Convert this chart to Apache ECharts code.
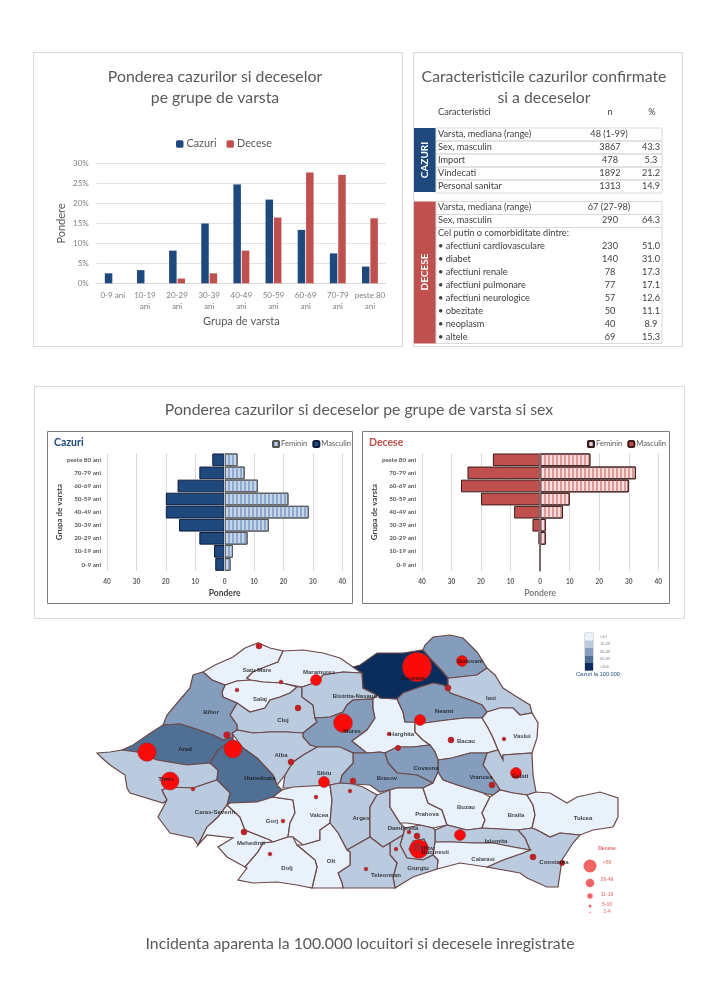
<!DOCTYPE html>
<html>
<head>
<meta charset="utf-8">
<style>html,body{margin:0;padding:0;background:#fff}#c{width:720px;height:1003px}</style>
<script src="https://cdn.jsdelivr.net/npm/echarts@6/dist/echarts.min.js"></script>
</head>
<body>
<div id="c"></div>
<script>
// ---------- data ----------
const ageCats = ['0-9 ani','10-19\nani','20-29\nani','30-39\nani','40-49\nani','50-59\nani','60-69\nani','70-79\nani','peste 80\nani'];
const cazuriPct = [2.5,3.3,8.2,15,24.8,21,13.4,7.5,4.2];
const decesePct = [0,0,1.2,2.5,8.2,16.5,27.8,27.2,16.3];
const pyramidCats = ['0-9 ani','10-19 ani','20-29 ani','30-39 ani','40-49 ani','50-59 ani','60-69 ani','70-79 ani','peste 80 ani'];
const cazuriMasc = [3.2,3.6,8.6,15.5,20,20,16,8.6,4.2];
const cazuriFem = [2,2.8,7.8,15,28.6,21.7,11.3,6.8,4.4];
const deceseMasc = [0,0,0.6,2.6,8.8,20,26.8,24.6,16];
const deceseFem = [0,0,1.9,1.9,7.7,10,30,32.4,17];

const tblHeader = ['Caracteristici','n','%'];
const tblCazuri = [
  ['Varsta, mediana (range)','48 (1-99)',''],
  ['Sex, masculin','3867','43.3'],
  ['Import','478','5.3'],
  ['Vindecati','1892','21.2'],
  ['Personal sanitar','1313','14.9']
];
const tblDecese = [
  ['Varsta, mediana (range)','67 (27-98)',''],
  ['Sex, masculin','290','64.3'],
  ['Cel putin o comorbiditate dintre:','',''],
  ['• afectiuni cardiovasculare','230','51.0'],
  ['• diabet','140','31.0'],
  ['• afectiuni renale','78','17.3'],
  ['• afectiuni pulmonare','77','17.1'],
  ['• afectiuni neurologice','57','12.6'],
  ['• obezitate','50','11.1'],
  ['• neoplasm','40','8.9'],
  ['• altele','69','15.3']
];

// counties: outline, incidence estimated from the shade class
const countyNames = ['Satu Mare','Maramures','Salaj','Cluj','Bistrita-Nasaud','Mures','Harghita','Suceava','Botosani','Iasi','Neamt','Vaslui','Bacau','Galati','Vrancea','Covasna','Brasov','Sibiu','Alba','Bihor','Arad','Timis','Hunedoara','Caras-Severin','Mehedinti','Gorj','Valcea','Arges','Dambovita','Prahova','Buzau','Braila','Tulcea','Constanta','Ialomita','Calarasi','Ilfov','Giurgiu','Teleorman','Olt','Dolj','Bucuresti'];
const countyIncidence = [5,5,5,20,20,40,5,150,40,20,40,5,5,20,40,40,40,20,20,40,70,20,70,20,5,5,5,20,20,5,5,5,5,20,20,5,20,20,20,5,5,20];
const countyOutlines = [
 [[203,672],[215,665],[233,657],[245,648],[258,643],[270,648],[283,651],[278,662],[265,667],[253,672],[247,678],[250,680],[237,681],[225,685],[212,680]],
 [[283,651],[303,650],[323,653],[340,658],[353,667],[362,673],[343,672],[323,675],[317,682],[302,687],[282,683],[263,682],[250,680],[247,678],[253,672],[265,667],[278,662]],
 [[225,685],[237,681],[250,680],[263,682],[282,683],[297,687],[290,693],[280,697],[270,700],[265,708],[250,712],[237,703],[223,697],[222,692]],
 [[297,687],[302,687],[302,697],[313,705],[315,718],[317,722],[303,733],[287,732],[270,732],[253,733],[237,730],[237,725],[230,715],[237,703],[250,712],[265,708],[270,700],[280,697],[290,693]],
 [[302,687],[317,682],[323,675],[343,672],[362,673],[363,688],[377,695],[373,699],[353,700],[347,705],[343,712],[330,717],[315,718],[313,705],[302,697]],
 [[315,718],[330,717],[343,712],[347,705],[353,700],[373,699],[373,708],[375,718],[367,730],[352,741],[367,753],[353,753],[340,747],[317,747],[310,745],[303,737],[303,733],[317,722]],
 [[373,699],[377,695],[380,698],[397,699],[403,712],[405,722],[415,722],[415,732],[423,740],[430,745],[413,747],[397,747],[385,753],[380,752],[367,753],[352,741],[367,730],[375,718],[373,708]],
 [[353,667],[360,665],[377,653],[403,653],[423,650],[430,658],[443,672],[448,678],[448,688],[443,685],[433,683],[420,687],[403,693],[397,699],[380,698],[377,695],[363,688],[362,673]],
 [[423,650],[425,645],[433,637],[450,635],[463,638],[477,652],[487,668],[477,675],[450,678],[448,678],[443,672],[430,658]],
 [[448,678],[450,678],[477,675],[487,668],[495,675],[503,688],[517,697],[530,705],[532,713],[520,715],[513,708],[500,708],[487,712],[482,705],[470,700],[450,693],[448,688]],
 [[403,693],[420,687],[433,683],[443,685],[448,688],[450,693],[470,700],[482,705],[487,712],[482,718],[465,718],[447,720],[425,723],[415,722],[405,722],[403,712],[397,699]],
 [[487,712],[500,708],[513,708],[520,715],[532,713],[538,723],[537,738],[532,753],[503,755],[503,760],[498,750],[493,738],[488,728],[482,718]],
 [[415,722],[425,723],[447,720],[465,718],[482,718],[488,728],[493,738],[498,750],[487,753],[470,753],[452,758],[438,760],[435,752],[430,745],[423,740],[415,732]],
 [[498,750],[503,760],[503,755],[532,753],[533,775],[536,792],[527,795],[513,793],[500,790],[497,785],[483,765],[487,753]],
 [[438,760],[452,758],[470,753],[487,753],[483,765],[497,785],[500,790],[493,795],[483,793],[457,785],[443,780],[438,772]],
 [[385,753],[397,747],[413,747],[430,745],[435,752],[438,760],[438,772],[433,783],[417,775],[397,773],[388,763]],
 [[353,753],[367,753],[380,752],[385,753],[388,763],[397,773],[417,775],[433,783],[423,788],[397,788],[380,792],[370,785],[353,784],[340,783],[342,775],[353,763]],
 [[293,762],[303,755],[317,747],[340,747],[353,753],[353,763],[342,775],[340,783],[330,785],[303,788],[283,788],[285,775]],
 [[232,733],[237,730],[253,733],[270,732],[287,732],[303,733],[303,737],[310,745],[317,747],[303,755],[293,762],[285,775],[277,785],[273,775],[257,758],[243,748],[237,740]],
 [[203,672],[212,680],[225,685],[222,692],[223,697],[237,703],[230,715],[237,725],[237,730],[232,733],[233,737],[223,740],[213,735],[193,728],[180,724],[163,725],[167,715],[178,702],[190,688],[193,675]],
 [[122,750],[133,745],[152,732],[163,725],[180,724],[193,728],[213,735],[223,740],[233,737],[233,740],[218,750],[210,763],[187,765],[157,760],[137,752]],
 [[97,753],[110,752],[122,750],[137,752],[157,760],[187,765],[210,763],[218,770],[217,780],[193,788],[170,787],[162,790],[167,800],[163,803],[130,793],[127,788],[125,775],[110,765],[102,758]],
 [[218,750],[233,740],[243,748],[257,758],[273,775],[277,785],[282,790],[273,797],[257,802],[230,803],[227,805],[230,793],[217,780],[218,770],[210,763]],
 [[162,790],[170,787],[193,788],[217,780],[230,793],[227,805],[218,817],[207,827],[198,845],[193,838],[170,833],[158,817],[167,800]],
 [[227,805],[240,817],[245,830],[270,840],[273,842],[263,843],[258,852],[245,867],[227,857],[218,847],[233,838],[207,835],[198,845],[207,827],[218,817]],
 [[227,805],[230,803],[257,802],[273,797],[293,800],[295,813],[290,823],[288,837],[273,842],[270,840],[245,830],[240,817]],
 [[282,790],[293,787],[330,785],[332,800],[330,823],[320,830],[320,840],[303,845],[293,837],[288,837],[290,823],[295,813],[293,800],[273,797]],
 [[330,785],[340,783],[353,784],[363,787],[377,795],[370,807],[370,823],[370,837],[347,850],[338,833],[330,823],[332,800]],
 [[377,795],[390,790],[390,807],[400,823],[405,828],[403,835],[390,843],[383,847],[370,837],[370,823],[370,807]],
 [[390,790],[397,788],[423,788],[428,803],[442,810],[447,825],[433,828],[420,825],[407,823],[400,823],[390,807]],
 [[423,788],[433,783],[438,772],[443,780],[457,785],[483,793],[490,797],[482,813],[485,820],[482,828],[467,830],[447,825],[442,810],[428,803]],
 [[490,797],[493,795],[500,790],[513,793],[527,795],[533,805],[535,815],[532,828],[518,830],[482,828],[485,820],[482,813]],
 [[527,795],[536,792],[550,793],[567,803],[577,797],[600,792],[618,798],[618,817],[613,827],[593,830],[580,835],[560,833],[550,837],[537,830],[532,828],[535,815],[533,805]],
 [[518,830],[532,828],[537,830],[550,837],[560,833],[580,835],[573,843],[562,860],[558,887],[547,887],[527,878],[520,873],[487,867],[503,860],[523,853],[530,850],[525,838]],
 [[435,830],[447,825],[467,830],[482,828],[518,830],[525,838],[530,850],[513,847],[493,843],[473,843],[453,842],[435,842]],
 [[435,842],[453,842],[473,843],[493,843],[513,847],[530,850],[523,853],[503,860],[487,867],[460,863],[437,869],[438,860],[433,855]],
 [[405,828],[420,825],[433,828],[435,830],[435,842],[433,855],[423,860],[407,858],[400,845],[403,835]],
 [[390,843],[403,835],[400,845],[407,858],[423,860],[433,855],[438,860],[437,869],[413,877],[395,888],[393,877],[397,863],[390,855]],
 [[347,850],[370,837],[383,847],[390,843],[390,855],[397,863],[393,877],[395,888],[343,888],[342,883],[338,873],[350,865],[350,852]],
 [[330,823],[338,833],[347,850],[350,852],[350,865],[338,873],[342,883],[343,888],[312,888],[317,867],[315,860],[297,845],[303,845],[320,840],[320,830]],
 [[288,837],[293,837],[297,845],[315,860],[317,867],[312,888],[297,885],[277,882],[253,883],[238,880],[247,868],[245,867],[258,852],[263,843],[273,842]],
 [[413,841],[424,839],[428,847],[425,855],[414,856],[409,849]]
];
const incidenceBands = [
  {max:10,label:'<10',color:'#e9f1fb'},
  {min:10,max:30,label:'10-29',color:'#bacadf'},
  {min:30,max:50,label:'30-49',color:'#849dbd'},
  {min:50,max:100,label:'50-99',color:'#506f94'},
  {min:100,label:'>100',color:'#0b2d5e'}
];
const labelNames = ['Satu Mare','Maramures','Salaj','Bihor','Cluj','Bistrita-Nasaud','Mures','Arad','Alba','Hunedoara','Sibiu','Timis','Brasov','Harghita','Suceava','Botosani','Iasi','Neamt','Bacau','Vaslui','Covasna','Vrancea','Galati','Caras-Severin','Gorj','Valcea','Arges','Mehedinti','Dolj','Olt','Teleorman','Dambovita','Prahova','Buzau','Braila','Tulcea','Ialomita','Calarasi','Constanta','Giurgiu','Ilfov','Bucuresti'];
const labelX = [257,319,260,211,283,355,352,185,281,260,324,166,387,402,413,470,491,444,466,522,426,481,520,215,272,319,361,251,287,331,386,403,427,466,516,583,496,483,554,418,428,435];
const labelY = [670,672,699,712,720,696,731,749,755,778,773,779,778,734,678,661,698,711,741,736,768,777,776,812,821,815,818,843,868,861,875,828,814,807,815,818,841,859,862,868,848,852];
// deaths per locality read from the bubbles
const deathsX = [417,147,233,170,343,462,316,420,516,460,324,419,418,227,259,237,281,298,291,353,350,193,389,451,504,398,448,492,283,244,316,270,366,417,409,396,533,562];
const deathsY = [667,752,749,781,723,661,680,720,773,835,782,849,847,735,646,690,682,708,762,781,791,789,734,740,739,748,688,785,821,832,797,854,869,836,832,849,857,863];
const deathsN  = [120,48,46,46,50,17,17,17,17,17,17,49,9,6,5,2,2,5,5,5,2,2,2,5,2,4,5,5,2,5,2,2,2,5,2,2,5,4];
const bubbleLegendLabels = ['>50','20-49','11-19','5-10','1-4'];
const bubbleLegendSizes = [13,8.6,5.4,3,1.4];
const bubbleLegendY = [866,883,896,906,912.5];
const bubbleLabelY = [863,880,895,905,912];

// ---------- helpers ----------
const F = 'Lato, "Open Sans", sans-serif';
const gray = '#595959', tick = '#7f7f7f', blue = '#1f497d', red = '#c0504d';
const graphicEls = [];
function txt(x,y,text,o){ graphicEls.push({type:'text',x,y,rotation:(o&&o.rot)||0,z:20,style:{text,fontFamily:(o&&o.ff)||F,fontSize:(o&&o.size)||9.2,fontWeight:(o&&o.w)||'normal',fill:(o&&o.fill)||'#404040',textAlign:(o&&o.align)||'left',textVerticalAlign:'middle'}}); }
function box(x,y,w,h,stroke,lw,fill){ graphicEls.push({type:'rect',shape:{x,y,width:w,height:h},z:(fill?1:2),style:{fill:fill||'none',stroke:stroke||null,lineWidth:lw||1}}); }
// panels
box(33.5,52.5,369,294,'#d9d9d9',1);
box(413.5,52.5,269,294,'#d9d9d9',1);
box(34.5,386.5,650,232,'#d9d9d9',1);
box(47.5,431.5,305,172,'#7f7f7f',1);
box(362.5,431.5,307,172,'#7f7f7f',1);
// table
const rowH = 13;
txt(438,112,tblHeader[0]); txt(610,112,tblHeader[1],{align:'center'}); txt(652,112,tblHeader[2],{align:'center'});
function tableRows(rows,y0){ rows.forEach((r,i)=>{ const y=y0+rowH*i+rowH/2-0.5;
  txt(438,y,r[0]);
  txt(r[2]?610:609,y,r[1],{align:'center'});
  if(r[2]) txt(651,y,r[2],{align:'center'}); }); }
tableRows(tblCazuri,128.5); tableRows(tblDecese,201.5);
box(414,128,22,64,null,0,blue); box(414,201.5,22,142,null,0,red);
txt(425,160,'CAZURI',{rot:Math.PI/2,size:10,w:'bold',fill:'#fff',align:'center'});
txt(425,272,'DECESE',{rot:Math.PI/2,size:10,w:'bold',fill:'#fff',align:'center'});
for(let i=0;i<5;i++) box(436,128+rowH*i,226,rowH,'#d9d9d9',1);
box(436,201.5,226,rowH,'#d9d9d9',1); box(436,214.5,226,rowH,'#d9d9d9',1); box(436,227.5,226,116,'#d9d9d9',1);
// map legend caption, swatch outline and bubble caption
txt(598,674,'Cazuri la 100.000',{size:5.6,fill:blue,align:'center',ff:'"Liberation Sans"'});
box(585,633,8,37.5,'#8a8a8a',0.6);
txt(607,849,'Decese',{size:5,fill:'#e06666',align:'center',ff:'"Liberation Sans",sans-serif',w:'bold'});

const axisTick = {show:false};
function pyramid(grid,mascData,femData,masc,femBase,femStripe,femBorder,mascBorder){
  return [
   {name:'Masculin',type:'bar',xAxisIndex:grid,yAxisIndex:grid,data:mascData.map(v=>-v),barWidth:'97%',barGap:'-100%',itemStyle:{color:masc,borderColor:mascBorder,borderWidth:1},emphasis:{disabled:true}},
   {name:'Feminin',type:'bar',xAxisIndex:grid,yAxisIndex:grid,data:femData,barWidth:'97%',barGap:'-100%',itemStyle:{color:femBase,borderColor:femBorder,borderWidth:1,decal:{symbol:'rect',symbolSize:1,dashArrayX:[1.5,1.5],dashArrayY:[8,0],rotation:0,color:femStripe}},emphasis:{disabled:true}}
  ];
}
const pyrX = (nameColor)=>({type:'value',min:-40,max:40,interval:10,axisLine:{show:false},axisTick,
  axisLabel:{formatter:v=>Math.abs(v),fontFamily:F,fontSize:6.5,fontWeight:'bold',color:gray,margin:7},
  splitLine:{lineStyle:{color:'#d9d9d9',width:1}},
  name:'Pondere',nameLocation:'middle',nameGap:18,nameTextStyle:{fontFamily:F,fontSize:8.5,fontWeight:'bold',color:nameColor}});
const pyrY = (lineColor,lw)=>({type:'category',data:pyramidCats,z:6,axisTick,
  axisLine:{onZero:true,lineStyle:{color:lineColor,width:lw}},
  axisLabel:{interval:0,fontFamily:F,fontSize:6.3,fontWeight:'bold',color:gray,margin:6},
  name:'Grupa de varsta',nameLocation:'middle',nameRotate:90,nameGap:42,nameTextStyle:{fontFamily:F,fontSize:8,fontWeight:'bold',color:'#404040'}});

const features = countyNames.map((n,i)=>({type:'Feature',properties:{name:n},geometry:{type:'Polygon',coordinates:[countyOutlines[i].concat([countyOutlines[i][0]])]}}));
echarts.registerMap('ro',{type:'FeatureCollection',features});

const chart = echarts.init(document.getElementById('c'),null,{width:720,height:1003});
const leg = (left,items)=>({left,top:440,padding:0,itemWidth:6,itemHeight:6,itemGap:5,textStyle:{fontFamily:F,fontSize:7.6,color:gray,padding:[0,0,0,-3]},selectedMode:false,data:items});
const titleBase = {fontFamily:F,fontSize:15.8,fontWeight:'normal',color:gray};
chart.setOption({
  animation:false,
  backgroundColor:'#fff',
  title:[
    {text:'Ponderea cazurilor si deceselor\npe grupe de varsta',left:210,top:61,textAlign:'center',textStyle:Object.assign({lineHeight:21},titleBase)},
    {text:'Caracteristicile cazurilor confirmate\nsi a deceselor',left:539,top:61,textAlign:'center',textStyle:Object.assign({lineHeight:21},titleBase)},
    {text:'Ponderea cazurilor si deceselor pe grupe de varsta si sex',left:354,top:397,textAlign:'center',textStyle:titleBase},
    {text:'Incidenta aparenta la 100.000 locuitori si decesele inregistrate',left:355,top:931,textAlign:'center',textStyle:titleBase},
    {text:'Cazuri',left:54,top:437,padding:0,textStyle:{fontFamily:F,fontSize:10.5,fontWeight:'bold',color:blue}},
    {text:'Decese',left:369,top:437,padding:0,textStyle:{fontFamily:F,fontSize:10.5,fontWeight:'bold',color:red}}
  ],
  legend:[
    {left:176,top:138.5,padding:0,itemWidth:7.5,itemHeight:7.5,itemGap:10,selectedMode:false,textStyle:{fontFamily:F,fontSize:10.8,color:gray,padding:[0,0,0,-2]},data:['Cazuri','Decese']},
    leg(272,[{name:'Feminin',itemStyle:{color:'#bdd0e8',borderColor:'#555'}},{name:'Masculin',itemStyle:{color:blue,borderColor:'#0d1b3a'}}]),
    leg(587,[{name:'Feminin',itemStyle:{color:'#f3c9c8',borderColor:'#3a1a1a'}},{name:'Masculin',itemStyle:{color:red,borderColor:'#3a1a1a'}}])
  ],
  grid:[
    {left:96.7,top:163.7,width:289.3,height:119.6},
    {left:107,top:453.3,width:235.3,height:117.7},
    {left:422,top:453.3,width:236.3,height:117.7}
  ],
  xAxis:[
    {type:'category',gridIndex:0,data:ageCats,axisTick,axisLine:{lineStyle:{color:'#d9d9d9'}},
      axisLabel:{interval:0,fontFamily:F,fontSize:8,lineHeight:10.5,color:tick,margin:7},
      name:'Grupa de varsta',nameLocation:'middle',nameGap:33,nameTextStyle:{fontFamily:F,fontSize:11,color:gray}},
    Object.assign(pyrX('#404040'),{gridIndex:1}),
    Object.assign(pyrX('#7f7f7f'),{gridIndex:2})
  ],
  yAxis:[
    {type:'value',gridIndex:0,min:0,max:30,interval:5,axisLine:{show:false},axisTick,
      axisLabel:{formatter:'{value}%',fontFamily:F,fontSize:8,color:tick,margin:8},
      splitLine:{lineStyle:{color:'#e3e3e3'}},
      name:'Pondere',nameLocation:'middle',nameRotate:90,nameGap:30,nameTextStyle:{fontFamily:F,fontSize:11,color:gray}},
    Object.assign(pyrY('#c4c4c4',1),{gridIndex:1}),
    Object.assign(pyrY('#8c8080',1.5),{gridIndex:2})
  ],
  geo:{map:'ro',left:97,top:635,width:521,height:253,roam:false,silent:true,
    projection:{project:p=>[p[0],p[1]],unproject:p=>[p[0],p[1]]},
    itemStyle:{areaColor:'#e9f1fb',borderColor:'#6b4848',borderWidth:1.2},emphasis:{disabled:true},label:{show:false}},
  visualMap:{type:'piecewise',seriesIndex:0,left:585,top:633,padding:0,inverse:true,itemWidth:8,itemHeight:7.5,itemGap:0,itemSymbol:'rect',align:'left',textGap:7,selectedMode:false,hoverLink:false,
    textStyle:{fontFamily:'"Liberation Sans"',fontSize:4,color:'#7f7f7f'},pieces:incidenceBands},
  graphic:graphicEls,
  series:[
    {type:'map',geoIndex:0,data:countyNames.map((n,i)=>({name:n,value:countyIncidence[i]}))},
    {name:'Cazuri',type:'bar',xAxisIndex:0,yAxisIndex:0,data:cazuriPct,barWidth:7.5,barGap:'12%',itemStyle:{color:blue},emphasis:{disabled:true}},
    {name:'Decese',type:'bar',xAxisIndex:0,yAxisIndex:0,data:decesePct,barWidth:7.5,barGap:'12%',itemStyle:{color:red},emphasis:{disabled:true}},
    ...pyramid(1,cazuriMasc,cazuriFem,blue,'#c6d6ea','#8ea9cd','#555','#0d1b3a'),
    ...pyramid(2,deceseMasc,deceseFem,red,'#f9dedd','#dd9a98','#3a1a1a','#3a1a1a'),
    {type:'scatter',coordinateSystem:'geo',z:5,silent:true,
      data:deathsN.map((d,i)=>[deathsX[i],deathsY[i],d]),
      symbolSize:v=>2.65*Math.sqrt(v[2]),
      itemStyle:{color:p=>p.value[2]>=15?'#fb0a0a':'#c21f24',borderColor:'#9c2a2a',borderWidth:0.6,opacity:1}},
    {type:'scatter',coordinateSystem:'geo',z:6,silent:true,symbol:'circle',symbolSize:1,
      data:labelNames.map((n,i)=>({name:n,value:[labelX[i],labelY[i]]})),
      itemStyle:{color:'rgba(0,0,0,0)'},
      label:{show:true,position:'inside',formatter:'{b}',fontFamily:'"Liberation Sans"',fontSize:6,fontWeight:'bold',color:'#111'}},
    {type:'scatter',coordinateSystem:'geo',z:6,silent:true,
      data:bubbleLegendSizes.map((s,i)=>({value:[590,bubbleLegendY[i]],symbolSize:s})),
      itemStyle:{color:'#ef3f3f'}},
    {type:'scatter',coordinateSystem:'geo',z:6,silent:true,symbolSize:1,
      data:bubbleLegendLabels.map((l,i)=>({name:l,value:[607,bubbleLabelY[i]]})),
      itemStyle:{color:'rgba(0,0,0,0)'},
      label:{show:true,position:'inside',formatter:'{b}',fontFamily:'"Liberation Sans"',fontSize:5,fontWeight:'bold',color:'#e06666'}}
  ]
});
</script>
</body>
</html>
